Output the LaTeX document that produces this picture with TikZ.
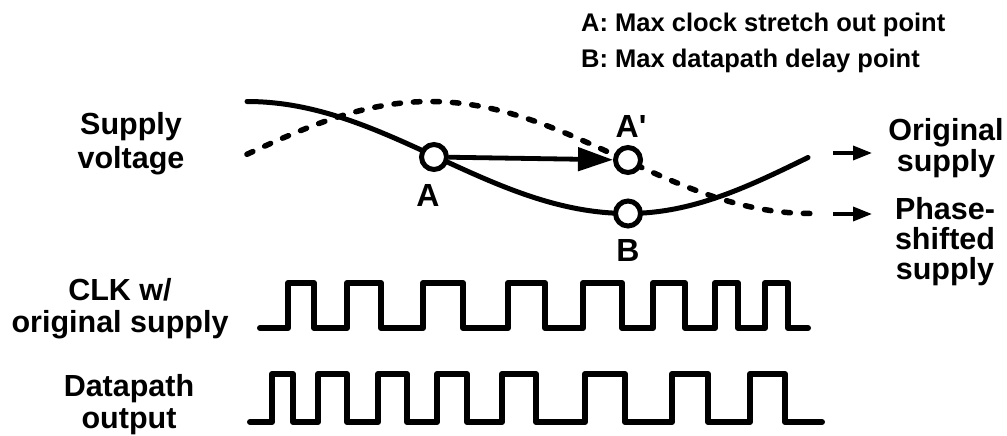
\documentclass[tikz,border=0pt]{standalone}
\usepackage{fontspec}
\setmainfont{Liberation Sans}
\usetikzlibrary{arrows.meta}
\begin{document}
\begin{tikzpicture}[x=1pt,y=-1pt,
  lbl/.style={font=\fontsize{30.5}{32}\selectfont\bfseries, align=center, inner sep=0pt},
  ptlbl/.style={font=\fontsize{32}{34}\selectfont\bfseries, inner sep=0pt},
  legend/.style={font=\fontsize{25.5}{30}\selectfont\bfseries, inner sep=0pt, anchor=base west},
  mark pt/.style={circle, draw, line width=5pt, fill=white, minimum size=25pt, inner sep=0pt},
  wave/.style={line width=6pt, line join=round, line cap=round},
  orig curve/.style={line width=5pt, line cap=round},
  shift curve/.style={line width=5.5pt, line cap=round, dash pattern=on 6.5pt off 13pt},
  big arrow/.style={line width=4.8pt, -{Triangle[length=35pt,width=23pt]}},
  small arrow/.style={line width=3.5pt, -{Triangle[length=19pt,width=14pt]}},
]
\useasboundingbox (0,0) rectangle (1007,436);

% legend
\node[legend] (legA) at (581,32) {A: Max clock stretch out point};
\node[legend] (legB) at (581,67) {B: Max datapath delay point};

% row labels
\node[lbl, font=\fontsize{30.5}{34}\selectfont\bfseries] (supplbl) at (131,144) {Supply\\voltage};
\node[lbl] (clklbl) at (120,309) {CLK w/\\original supply};
\node[lbl] (dplbl) at (129,405) {Datapath\\output};

% supply waveforms
\draw[shift curve] plot[domain=247:810, samples=140]
  (\x, {157.5-56*cos((\x-430)/380*180)});
\draw[orig curve] plot[domain=247:808, samples=140]
  (\x, {(\x<628) ? (157.5-56*cos((\x-247)/381*180)) : (157.5+56*cos((\x-628)/180*90))});

% marked points
\node[mark pt] (A) at (434,157) {};
\node[mark pt] (Ap) at (628,160) {};
\node[mark pt] (B) at (628,213.5) {};
\draw[big arrow] (A) -- (Ap);
\node[ptlbl] (Alabel) at (428,195) {A};
\node[ptlbl] (Aplabel) at (631,126) {A\textquotesingle};
\node[ptlbl] (Blabel) at (628,250) {B};

% curve legends on the right
\node[lbl, font=\fontsize{30.5}{31}\selectfont\bfseries] (origlbl) at (946,148) {Original\\supply};
\node[lbl, font=\fontsize{30.5}{30}\selectfont\bfseries] (phaselbl) at (945,242) {Phase-\\shifted\\supply};
\coordinate (o1s) at (833,153);
\coordinate (o1e) at (872,153);
\coordinate (o2s) at (833,214);
\coordinate (o2e) at (872,214);
\draw[small arrow] (o1s) -- (o1e);
\draw[small arrow] (o2s) -- (o2e);

% clock with original supply
\draw[wave] (260,328)
  \foreach \r/\f in {288/314, 347/381, 423/463, 508/545, 583/622, 653/685, 715/738, 765/788}
    { -- (\r,328) -- (\r,283) -- (\f,283) -- (\f,328) }
  -- (808,328);

% datapath output
\draw[wave] (250,422)
  \foreach \r/\f in {272/293, 318/347, 378/407, 437/467, 502/536, 585/625, 672/708, 750/785}
    { -- (\r,422) -- (\r,374) -- (\f,374) -- (\f,422) }
  -- (822,422);
\end{tikzpicture}
\end{document}
